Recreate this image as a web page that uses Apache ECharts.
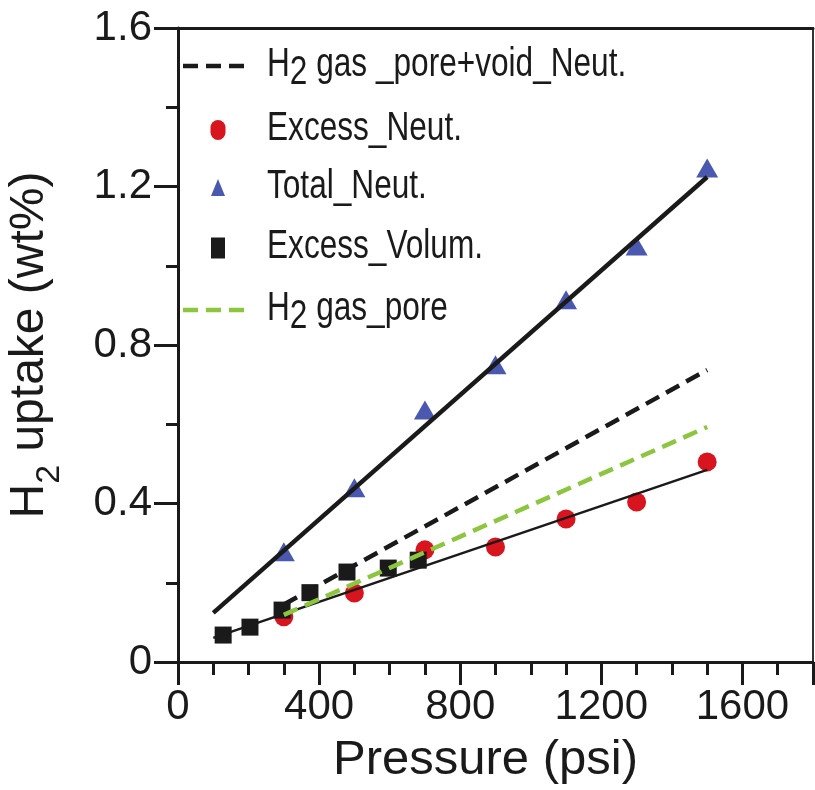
<!DOCTYPE html>
<html>
<head>
<meta charset="utf-8">
<script src="https://cdn.jsdelivr.net/npm/echarts@6/dist/echarts.min.js"></script>
<style>
  html, body { margin: 0; padding: 0; background: #fff; }
  #chart { width: 815px; height: 790px; }
</style>
</head>
<body>
<div id="chart"></div>
<script>
// Measured H2 uptake (wt%) versus pressure (psi)
const pressureNeut = [300, 500, 700, 900, 1100, 1300, 1500];
const excessNeut   = [0.114, 0.174, 0.283, 0.290, 0.361, 0.404, 0.505];
const totalNeut    = [0.278, 0.440, 0.636, 0.750, 0.914, 1.050, 1.247];

const pressureVolum = [128, 204, 295, 374, 479, 596, 681];
const excessVolum   = [0.068, 0.088, 0.131, 0.175, 0.227, 0.237, 0.257];

// Straight-line fits and gas-density estimates (end points)
const totalFitP  = [100, 1500];
const totalFitV  = [0.124, 1.224];
const excessFitP = [100, 1500];
const excessFitV = [0.061, 0.485];
const poreVoidP  = [300, 1500];
const poreVoidV  = [0.145, 0.737];
const poreP      = [300, 1500];
const poreV      = [0.119, 0.593];

// Legend entries, top to bottom
const legendNames = ['H2 gas _pore+void_Neut.', 'Excess_Neut.', 'Total_Neut.', 'Excess_Volum.', 'H2 gas_pore'];
const legendKinds = ['dash-black', 'circle', 'triangle', 'square', 'dash-green'];

const INK = '#1a1a1a';
const RED = '#d8141f';
const BLUE = '#4a58b0';
const GREEN = '#8cc63f';
const FONT = '"Liberation Sans", Arial, sans-serif';
const DASH = [15, 8];

const zip = (xs, ys) => xs.map((x, i) => [x, ys[i]]);

// ---- legend drawn as graphic elements (condensed text) ----
const LEG_LEFT = 183, LEG_ICON_W = 62, LEG_TEXT_X = 267;
const LEG_ROWS_Y = [66, 130, 188, 248, 310];

function legendText(name) {
  if (name.startsWith('H2')) return '{t|H}{s|2}{t|' + name.slice(2) + '}';
  return '{t|' + name + '}';
}

function legendIcon(kind, cy) {
  const cx = LEG_LEFT + LEG_ICON_W / 2 + 4;
  switch (kind) {
    case 'dash-black':
    case 'dash-green':
      return {
        type: 'line',
        shape: { x1: LEG_LEFT, y1: cy, x2: LEG_LEFT + LEG_ICON_W, y2: cy },
        style: { stroke: kind === 'dash-black' ? INK : GREEN, lineWidth: 4.5, lineDash: DASH }
      };
    case 'circle':
      return {
        type: 'rect',
        shape: { x: cx - 7.5, y: cy - 10, width: 15, height: 20, r: 7.5 },
        style: { fill: RED }
      };
    case 'triangle':
      return {
        type: 'polygon',
        shape: { points: [[cx, cy - 9], [cx + 7, cy + 8], [cx - 7, cy + 8]] },
        style: { fill: BLUE }
      };
    default:
      return {
        type: 'rect',
        shape: { x: cx - 7, y: cy - 10.5, width: 14, height: 21 },
        style: { fill: INK }
      };
  }
}

const legendGraphics = [];
legendNames.forEach((name, i) => {
  const cy = LEG_ROWS_Y[i];
  legendGraphics.push(legendIcon(legendKinds[i], cy));
  legendGraphics.push({
    type: 'text',
    x: LEG_TEXT_X,
    y: cy - 1,
    scaleX: 0.79,
    style: {
      text: legendText(name),
      verticalAlign: 'middle',
      align: 'left',
      rich: {
        t: { fontSize: 40, fontFamily: FONT, fill: INK },
        s: { fontSize: 40, fontFamily: FONT, fill: INK, padding: [16, 0, 0, 0] }
      }
    }
  });
});

const chart = echarts.init(document.getElementById('chart'), null, { renderer: 'canvas' });

const option = {
  backgroundColor: '#ffffff',
  animation: false,
  grid: { left: 178, right: 2, top: 28, bottom: 128, show: false, containLabel: false, outerBoundsMode: 'none' },
  graphic: legendGraphics,
  xAxis: [
    {
      type: 'value',
      min: 0, max: 1800, interval: 400,
      name: 'Pressure (psi)',
      nameLocation: 'middle',
      nameGap: 74,
      nameTextStyle: { fontSize: 49, fontFamily: FONT, color: INK, padding: [0, 20, 0, 0] },
      axisLine: { show: true, onZero: false, lineStyle: { color: INK, width: 3 } },
      axisTick: { show: true, inside: false, length: 23, lineStyle: { color: INK, width: 3 } },
      minorTick: { show: true, splitNumber: 4, length: 13, lineStyle: { color: INK, width: 3 } },
      axisLabel: { fontSize: 42, fontFamily: FONT, color: INK, margin: 24,
                   showMaxLabel: false, formatter: v => String(v) },
      splitLine: { show: false }
    },
    {
      type: 'value', position: 'top',
      min: 0, max: 1800,
      axisLine: { show: true, onZero: false, lineStyle: { color: INK, width: 3 } },
      axisTick: { show: false }, axisLabel: { show: false }, splitLine: { show: false }
    }
  ],
  yAxis: [
    {
      type: 'value',
      min: 0, max: 1.6, interval: 0.4,
      name: '{a|H}{s|2}{a| uptake (wt%)}',
      nameLocation: 'middle',
      nameGap: 111,
      nameTextStyle: {
        rich: {
          a: { fontSize: 48, fontFamily: FONT, color: INK },
          s: { fontSize: 34, fontFamily: FONT, color: INK, padding: [40, 0, 0, 0] }
        }
      },
      axisLine: { show: true, onZero: false, lineStyle: { color: INK, width: 3 } },
      axisTick: { show: true, inside: false, length: 24, lineStyle: { color: INK, width: 3 } },
      minorTick: { show: true, splitNumber: 2, length: 12, lineStyle: { color: INK, width: 3 } },
      axisLabel: {
        fontSize: 42, fontFamily: FONT, color: INK, margin: 26,
        formatter: v => (v === 0 ? '0' : v.toFixed(1))
      },
      splitLine: { show: false }
    },
    {
      type: 'value', position: 'right',
      min: 0, max: 1.6,
      axisLine: { show: true, onZero: false, lineStyle: { color: '#333', width: 2 } },
      axisTick: { show: false }, axisLabel: { show: false }, splitLine: { show: false }
    }
  ],
  series: [
    {
      name: legendNames[1], type: 'scatter', z: 2,
      data: zip(pressureNeut, excessNeut),
      symbol: 'circle', symbolSize: 19,
      itemStyle: { color: RED, opacity: 1 }
    },
    {
      name: legendNames[2], type: 'scatter', z: 2,
      data: zip(pressureNeut, totalNeut),
      symbol: 'triangle', symbolSize: [22, 19],
      itemStyle: { color: BLUE, opacity: 1 }
    },
    {
      name: legendNames[3], type: 'scatter', z: 2,
      data: zip(pressureVolum, excessVolum),
      symbol: 'rect', symbolSize: 17,
      itemStyle: { color: INK, opacity: 1 }
    },
    {
      name: 'Total fit', type: 'line', z: 3,
      data: zip(totalFitP, totalFitV),
      showSymbol: false, symbol: 'none',
      lineStyle: { color: INK, width: 4.5 }
    },
    {
      name: 'Excess fit', type: 'line', z: 3,
      data: zip(excessFitP, excessFitV),
      showSymbol: false, symbol: 'none',
      lineStyle: { color: INK, width: 2.5 }
    },
    {
      name: legendNames[0], type: 'line', z: 3,
      data: zip(poreVoidP, poreVoidV),
      showSymbol: false, symbol: 'none',
      lineStyle: { color: INK, width: 4.5, type: DASH }
    },
    {
      name: legendNames[4], type: 'line', z: 3,
      data: zip(poreP, poreV),
      showSymbol: false, symbol: 'none',
      lineStyle: { color: GREEN, width: 4.5, type: DASH }
    }
  ]
};

chart.setOption(option);
</script>
</body>
</html>
